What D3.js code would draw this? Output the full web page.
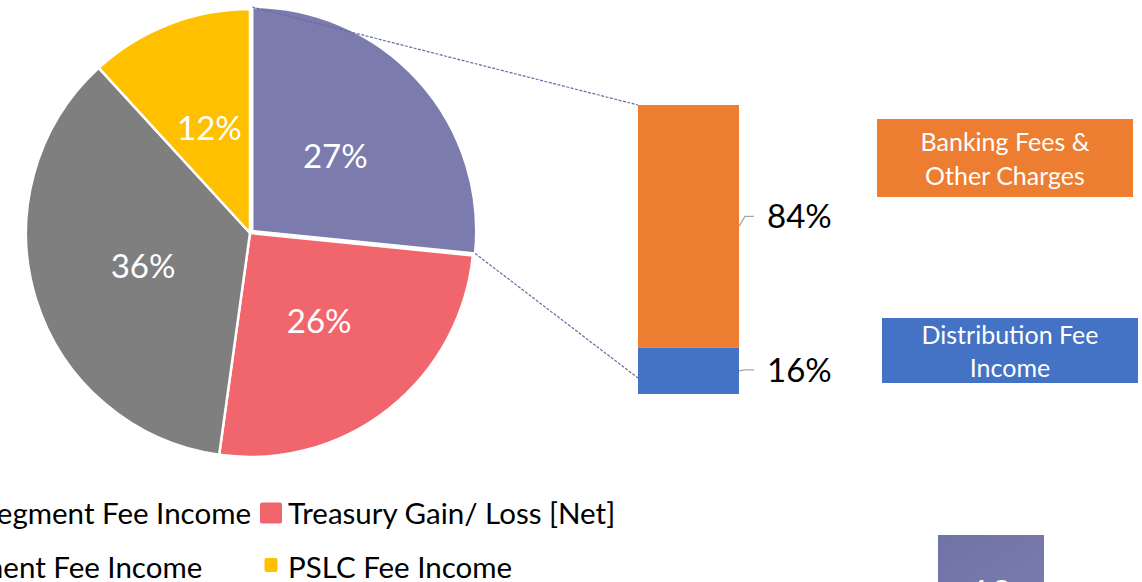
<!DOCTYPE html>
<html>
<head>
<meta charset="utf-8">
<script src="https://cdn.jsdelivr.net/npm/d3@7"></script>
<style>
  html, body { margin: 0; padding: 0; background: #fff; }
  svg { display: block; font-family: Lato, "Open Sans", sans-serif; }
</style>
</head>
<body>
<svg id="chart" width="1142" height="582"></svg>
<script>
// pie slices, clockwise from 12 o'clock
const pieCategories = ["Retail Segment Fee Income", "Treasury Gain/ Loss [Net]", "Investment Fee Income", "PSLC Fee Income"]
const pieValues = [26.6, 25.6, 36.0, 11.8]
const pieColors = ["#7b7bad", "#f1666d", "#7f7f7f", "#ffc000"]

// the purple slice split out into the bar
const barCategories = ["Banking Fees & Other Charges", "Distribution Fee Income"]
const barValues = [84, 16]
const barColors = ["#ed7d31", "#4472c4"]
const barBoxLines = [["Banking Fees &", "Other Charges"], ["Distribution Fee", "Income"]]

const slideNumber = "12"

function draw () {
  const svg = d3.select('#chart')
  const cx = 250, cy = 233, radius = 224

  const pie = d3.pie().sort(null).value(d => d)
  const arcs = pie(pieValues)
  const arc = d3.arc().innerRadius(0).outerRadius(radius)
  const labelArc = d3.arc().innerRadius(112).outerRadius(112)
  const explode = 3

  const offset = (d, i) => {
    if (i !== 0) return [0, 0]
    const mid = (d.startAngle + d.endAngle) / 2
    return [Math.sin(mid) * explode, -Math.cos(mid) * explode]
  }

  const pieG = svg.append('g').attr('transform', `translate(${cx}, ${cy})`)

  pieG.selectAll('path')
    .data(arcs)
    .join('path')
    .attr('d', arc)
    .attr('fill', (d, i) => pieColors[i])
    .attr('stroke', '#fff')
    .attr('stroke-width', 2.5)
    .attr('stroke-linejoin', 'round')
    .attr('transform', (d, i) => `translate(${offset(d, i)})`)

  const fmt = d3.format('.0%')
  const total = d3.sum(pieValues)
  pieG.selectAll('text')
    .data(arcs)
    .join('text')
    .attr('transform', (d, i) => {
      const [x, y] = labelArc.centroid(d)
      const [ox, oy] = offset(d, i)
      return `translate(${x + ox}, ${y + oy})`
    })
    .attr('text-anchor', 'middle')
    .attr('dy', '0.36em')
    .attr('fill', '#fff')
    .attr('font-size', 33)
    .text(d => fmt(d.data / total))

  // stacked bar
  const barX = 638, barW = 101
  const yBar = d3.scaleLinear().domain([0, 100]).range([394, 105])
  const stack = []
  let acc = 0
  barValues.slice().reverse().forEach((v, k) => {
    const i = barValues.length - 1 - k
    stack[i] = { y0: acc, y1: acc + v, i }
    acc += v
  })

  svg.append('g').selectAll('rect')
    .data(stack)
    .join('rect')
    .attr('x', barX)
    .attr('y', d => yBar(d.y1))
    .attr('width', barW)
    .attr('height', d => yBar(d.y0) - yBar(d.y1))
    .attr('fill', d => barColors[d.i])

  // connector lines from the split slice to the bar
  const purple = arcs[0]
  const [ex, ey] = offset(purple, 0)
  const p0 = [cx + ex + Math.sin(purple.startAngle) * radius, cy + ey - Math.cos(purple.startAngle) * radius]
  const p1 = [cx + ex + Math.sin(purple.endAngle) * radius, cy + ey - Math.cos(purple.endAngle) * radius]
  const conn = [[p0, [barX, yBar(100)]], [p1, [barX, yBar(0) - 16]]]
  svg.append('g').selectAll('line')
    .data(conn)
    .join('line')
    .attr('x1', d => d[0][0]).attr('y1', d => d[0][1])
    .attr('x2', d => d[1][0]).attr('y2', d => d[1][1])
    .attr('stroke', '#6a6aa6')
    .attr('stroke-width', 1.2)
    .attr('stroke-dasharray', '3,1.5')

  // bar data labels with leader lines
  const labelShift = [-10, -1]
  const lab = svg.append('g')
  stack.forEach(d => {
    const mid = (yBar(d.y0) + yBar(d.y1)) / 2
    const ly = mid + labelShift[d.i]
    const x0 = barX + barW
    lab.append('path')
      .attr('d', d3.line()([[x0, mid], [x0 + 6, ly], [x0 + 15, ly]]))
      .attr('fill', 'none')
      .attr('stroke', '#a6a6a6')
      .attr('stroke-width', 1.2)
    lab.append('text')
      .attr('x', x0 + 28)
      .attr('y', ly)
      .attr('dy', '0.36em')
      .attr('font-size', 33)
      .attr('fill', '#000')
      .text(barValues[d.i] + '%')
  })

  // coloured boxes naming the bar segments
  const boxes = [
    { x: 877, y: 119, w: 256, h: 78 },
    { x: 882, y: 318, w: 256, h: 65 }
  ]
  barCategories.forEach((c, i) => {
    const b = boxes[i]
    const g = svg.append('g')
    g.append('rect')
      .attr('x', b.x).attr('y', b.y)
      .attr('width', b.w).attr('height', b.h)
      .attr('fill', barColors[i])
    const lines = barBoxLines[i]
    const lh = 33.5
    g.selectAll('text')
      .data(lines)
      .join('text')
      .attr('x', b.x + b.w / 2)
      .attr('y', (l, k) => b.y + b.h / 2 + 1 + (k - (lines.length - 1) / 2) * lh)
      .attr('dy', '0.36em')
      .attr('text-anchor', 'middle')
      .attr('fill', '#fff')
      .attr('font-size', 25)
      .text(l => l)
  })

  // legend below the pie (runs off the left edge)
  const leg = svg.append('g').attr('font-size', 29.5).attr('fill', '#000')
  const rows = [524, 578]
  const col2 = 260
  const markerSize = [[22, 21], [22, 21], [13, 14], [13, 14]]
  const probe = leg.append('text').text(pieCategories[0])
  const w0 = probe.node().getComputedTextLength()
  probe.remove()
  const col1 = 251 - w0 - 28
  pieCategories.forEach((c, i) => {
    const row = Math.floor(i / 2)
    const colX = i % 2 === 0 ? col1 : col2
    const base = rows[row]
    const [mw, mh] = markerSize[i]
    leg.append('rect')
      .attr('x', colX + (22 - mw) / 2)
      .attr('y', base - 11 - mh / 2 - (row === 1 ? 2 : 0))
      .attr('width', mw).attr('height', mh)
      .attr('rx', 2)
      .attr('fill', pieColors[i])
    leg.append('text')
      .attr('x', colX + 28)
      .attr('y', base)
      .text(c)
  })

  // slide number tile
  const grad = svg.append('defs').append('linearGradient')
    .attr('id', 'tile').attr('x1', 0).attr('y1', 0).attr('x2', 1).attr('y2', 1)
  grad.append('stop').attr('offset', 0).attr('stop-color', '#7073a6')
  grad.append('stop').attr('offset', 1).attr('stop-color', '#7b7bae')
  svg.append('rect')
    .attr('x', 938).attr('y', 535).attr('width', 106).attr('height', 70)
    .attr('fill', 'url(#tile)')
  svg.append('text')
    .attr('x', 991).attr('y', 606)
    .attr('text-anchor', 'middle')
    .attr('fill', '#fff')
    .attr('font-size', 36)
    .text(slideNumber)
}

draw()
</script>
</body>
</html>
